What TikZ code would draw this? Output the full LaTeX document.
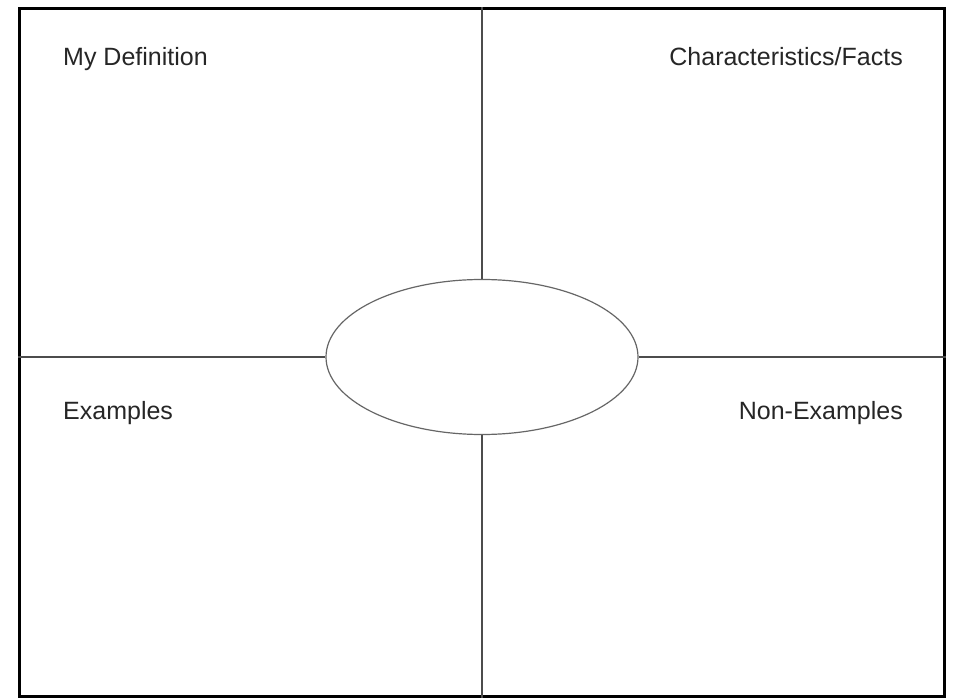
\documentclass[tikz,border=0pt]{standalone}
\usepackage{fontspec}
\setmainfont{Liberation Sans}
\usetikzlibrary{shapes.geometric}
\begin{document}
\begin{tikzpicture}[x=1pt, y=-1pt,
    frame/.style={rectangle, draw=black, line width=2.6pt, minimum width=925pt, minimum height=688pt, inner sep=0pt},
    term/.style={ellipse, draw=black!60, line width=1.2pt, minimum width=312pt, minimum height=155pt, inner sep=0pt},
    divider/.style={draw=black!70, line width=1.2pt},
    label/.style={inner sep=0pt, text=black!85, font=\fontsize{25}{30}\selectfont}
]
    % Page and outer frame
    \useasboundingbox[fill=white] (0, 0) rectangle (953, 700);
    \node[frame] (frame) at (482, 352.5) {};

    % Centre oval
    \node[term] (word) at (482, 357) {};

    % Dividing lines
    \draw[divider] (frame.north -| word.north) -- (word.north);
    \draw[divider] (word.south) -- (frame.south -| word.south);
    \draw[divider] (frame.west |- word.west) -- (word.west);
    \draw[divider] (word.east) -- (frame.east |- word.east);

    % Quadrant headings
    \node[label, anchor=base west] (def) at (63, 66) {My Definition};
    \node[label, anchor=base east] (facts) at (903, 66) {Characteristics/Facts};
    \node[label, anchor=base west] (ex) at (63, 419) {Examples};
    \node[label, anchor=base east] (nonex) at (903, 419) {Non-Examples};
\end{tikzpicture}
\end{document}
